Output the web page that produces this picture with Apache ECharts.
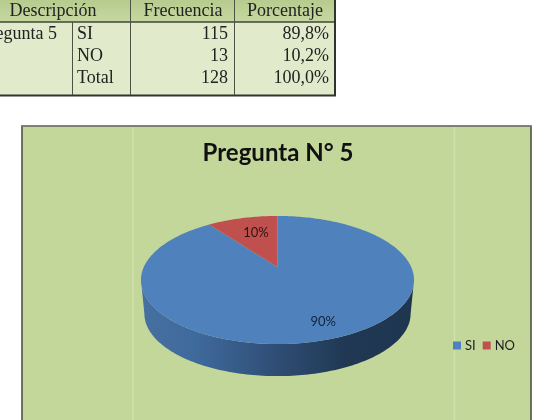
<!DOCTYPE html>
<html>
<head>
<meta charset="utf-8">
<style>html,body{margin:0;padding:0;background:#fff}#chart{width:535px;height:420px}</style>
<script src="https://cdn.jsdelivr.net/npm/echarts@6/dist/echarts.min.js"></script>
</head>
<body>
<div id="chart"></div>
<script>
// Survey answers
const answers = ['SI', 'NO'];
const counts = [115, 13];
const chartTitle = 'Pregunta N° 5';

// Summary table
const tableHeaders = ['Descripción', 'Frecuencia', 'Porcentaje'];
const questionLabel = 'Pregunta 5';
const rowLabels = ['SI', 'NO', 'Total'];
const rowCounts = ['115', '13', '128'];
const rowShares = ['89,8%', '10,2%', '100,0%'];

const sliceColors = ['#4f81bd', '#c0504d'];
const total = counts.reduce((a, b) => a + b, 0);

// Tilted disc: a circle projected with perspective, far edge compressed
const disc = { x: 277.5, y: 267, rx: 133.7, ry: 61.4, persp: 0.203 };
const rim = { dy: 34, scale: 0.975 };

function project(angle, r, d, k) {
  const u = Math.sin(angle) * r, v = Math.cos(angle) * r;
  const den = 1 + disc.persp * v;
  return [
    disc.x + disc.rx * k * u / den,
    disc.y + d - disc.ry * k * v / den
  ];
}

function arcPoints(a0, a1, d, k) {
  const n = Math.max(2, Math.ceil(Math.abs(a1 - a0) / 0.02));
  const pts = [];
  for (let i = 0; i <= n; i++) pts.push(project(a0 + (a1 - a0) * i / n, 1, d, k));
  return pts;
}

// Label distance from the disc centre (fraction of the radius) and sideways nudge
const labelRadius = [0.8, 0.66];
const labelNudge = [6, 3];

function renderSlice(index) {
  return function (params, api) {
    const before = counts.slice(0, index).reduce((a, b) => a + b, 0);
    const value = api.value(0);
    const a0 = before / total * 2 * Math.PI;
    const a1 = (before + value) / total * 2 * Math.PI;
    const children = [];

    // Visible wall: the part of the slice on the near side of the disc
    const nearStart = Math.PI / 2 + Math.asin(disc.persp);
    const nearEnd = 2 * Math.PI - nearStart;
    const s0 = Math.max(a0, nearStart), s1 = Math.min(a1, nearEnd);
    if (s1 > s0) {
      const wall = arcPoints(s0, s1, 0, 1).concat(arcPoints(s1, s0, rim.dy, rim.scale));
      children.push({
        type: 'polygon',
        shape: { points: wall },
        style: {
          fill: new echarts.graphic.LinearGradient(0, 0, 1, 0, [
            { offset: 0, color: '#45709f' },
            { offset: 0.2, color: '#3f6a9c' },
            { offset: 0.5, color: '#2f4d74' },
            { offset: 0.75, color: '#203853' },
            { offset: 1, color: '#1e3650' }
          ])
        }
      });
    }

    // Top face
    children.push({
      type: 'polygon',
      shape: { points: [project(0, 0, 0, 1)].concat(arcPoints(a0, a1, 0, 1)) },
      style: { fill: sliceColors[index] }
    });

    // Rounded percentage label
    const mid = (a0 + a1) / 2;
    const p = project(mid, labelRadius[index], 0, 1);
    children.push({
      type: 'text',
      x: p[0] + labelNudge[index], y: p[1],
      style: {
        text: Math.round(value / total * 100) + '%',
        fill: index === 0 ? '#10233a' : '#2a1414',
        font: '13px Lato',
        align: 'center',
        verticalAlign: 'middle'
      }
    });
    return { type: 'group', children };
  };
}

// Table and frame drawn as plain graphic elements
const graphics = [];
const hLine = (x1, x2, y, color, w) => graphics.push({
  type: 'line', shape: { x1, y1: y, x2, y2: y }, style: { stroke: color, lineWidth: w }, silent: true
});
const vLine = (x, y1, y2, color, w) => graphics.push({
  type: 'line', shape: { x1: x, y1, x2: x, y2 }, style: { stroke: color, lineWidth: w }, silent: true
});
const cell = (text, x, y, align) => graphics.push({
  type: 'text', x, y, silent: true,
  style: { text, fill: '#222', font: '18px "Liberation Serif"', align, verticalAlign: 'middle' }
});

graphics.push({ type: 'rect', shape: { x: 0, y: 0, width: 335, height: 22 },
  style: { fill: new echarts.graphic.LinearGradient(0, 0, 0, 1, [
    { offset: 0, color: '#b7cb8e' }, { offset: 1, color: '#c6d8a0' }
  ]) }, silent: true });
graphics.push({ type: 'rect', shape: { x: 0, y: 22, width: 335, height: 73 },
  style: { fill: '#e1eacb' }, silent: true });
hLine(0, 335, 22, '#3f4636', 1.5);
hLine(0, 336, 95.5, '#30352b', 2);
vLine(72.5, 22, 95, '#4c5342', 1);
vLine(130.5, 0, 95, '#4c5342', 1);
vLine(234.5, 0, 95, '#4c5342', 1);
vLine(335, 0, 96, '#30352b', 2);

cell(tableHeaders[0], 53, 11, 'center');
cell(tableHeaders[1], 183, 11, 'center');
cell(tableHeaders[2], 285, 11, 'center');
cell(questionLabel, 57, 34, 'right');
rowLabels.forEach((t, i) => {
  const y = 34 + i * 22;
  cell(t, 77, y, 'left');
  cell(rowCounts[i], 228, y, 'right');
  cell(rowShares[i], 329, y, 'right');
});

// Chart panel
graphics.push({ type: 'rect', shape: { x: 22, y: 126, width: 509, height: 300 },
  style: { fill: '#c4d79b', stroke: '#44493c', lineWidth: 1.5 }, silent: true });
hLine(22, 531, 126, '#8f9488', 1);
vLine(133, 127, 420, '#d0e0ab', 1.5);
vLine(454.5, 127, 420, '#d0e0ab', 1.5);

const chart = echarts.init(document.getElementById('chart'), null, { renderer: 'canvas' });
chart.setOption({
  animation: false,
  title: {
    text: chartTitle,
    left: 273,
    textAlign: 'center',
    top: 136,
    textStyle: { fontFamily: 'Lato', fontWeight: 'bold', fontSize: 24, color: '#111' }
  },
  legend: {
    left: 448,
    top: 334,
    itemWidth: 8,
    itemHeight: 8,
    itemGap: 7,
    data: answers.map(name => ({ name, icon: 'rect' })),
    textStyle: { fontFamily: 'Lato', fontSize: 13, color: '#222', padding: [0, 0, 0, -1] }
  },
  graphic: { elements: graphics },
  series: answers.map((name, i) => ({
    type: 'custom',
    name,
    coordinateSystem: 'none',
    itemStyle: { color: sliceColors[i] },
    data: [[counts[i]]],
    renderItem: renderSlice(i),
    silent: true
  }))
});
</script>
</body>
</html>
